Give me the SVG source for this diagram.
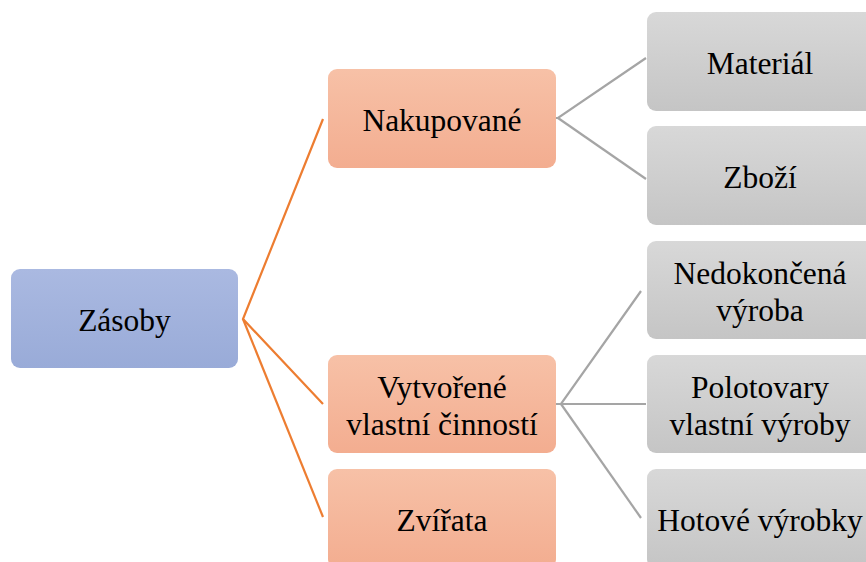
<svg xmlns="http://www.w3.org/2000/svg" width="866" height="562" viewBox="0 0 866 562">
  <defs>
    <linearGradient id="gBlue" x1="0" y1="0" x2="0" y2="1">
      <stop offset="0" stop-color="#aab9e1"/>
      <stop offset="1" stop-color="#99abd8"/>
    </linearGradient>
    <linearGradient id="gOrange" x1="0" y1="0" x2="0" y2="1">
      <stop offset="0" stop-color="#f7c1a7"/>
      <stop offset="1" stop-color="#f3ad90"/>
    </linearGradient>
    <linearGradient id="gGray" x1="0" y1="0" x2="0" y2="1">
      <stop offset="0" stop-color="#d8d8d8"/>
      <stop offset="1" stop-color="#c5c5c5"/>
    </linearGradient>
  </defs>
  <style>
    .box { stroke: none; }
    .blue { fill: url(#gBlue); }
    .orange { fill: url(#gOrange); }
    .gray { fill: url(#gGray); }
    .lbl { font-family: 'Liberation Serif', serif; font-size: 31.5px; fill: #000; text-anchor: middle; }
    .lo { stroke: #ed7d31; stroke-width: 2.2; fill: none; }
    .lg { stroke: #a5a5a5; stroke-width: 2.2; fill: none; }
  </style>

  <g id="connectors">
    <polyline class="lo" points="323,119 243,319 323,404"/>
    <line class="lo" x1="243" y1="319" x2="323" y2="517"/>
    <polyline class="lg" points="556,118 558,118 646,58"/>
    <line class="lg" x1="558" y1="118" x2="646" y2="179"/>
    <polyline class="lg" points="556,404 561,404 641,291"/>
    <line class="lg" x1="561" y1="404" x2="646" y2="404"/>
    <line class="lg" x1="561" y1="404" x2="641" y2="518"/>
  </g>

  <g id="zasoby">
    <rect class="box blue" x="11" y="269" width="227" height="99" rx="9"/>
    <text class="lbl" font-family="Liberation Serif, serif" x="124.5" y="331">Zásoby</text>
  </g>

  <g id="nakupovane">
    <rect class="box orange" x="328" y="69" width="228" height="99" rx="9"/>
    <text class="lbl" font-family="Liberation Serif, serif" x="442" y="131">Nakupované</text>
  </g>

  <g id="vytvorene">
    <rect class="box orange" x="328" y="355" width="228" height="98" rx="9"/>
    <text class="lbl" font-family="Liberation Serif, serif" x="442" y="397.5">Vytvořené</text>
    <text class="lbl" font-family="Liberation Serif, serif" x="442" y="434.5">vlastní činností</text>
  </g>

  <g id="zvirata">
    <rect class="box orange" x="328" y="469" width="228" height="99" rx="9"/>
    <text class="lbl" font-family="Liberation Serif, serif" x="442" y="531">Zvířata</text>
  </g>

  <g id="material">
    <rect class="box gray" x="647" y="12" width="227" height="99" rx="9"/>
    <text class="lbl" font-family="Liberation Serif, serif" x="760" y="74">Materiál</text>
  </g>

  <g id="zbozi">
    <rect class="box gray" x="647" y="126" width="227" height="99" rx="9"/>
    <text class="lbl" font-family="Liberation Serif, serif" x="760" y="188">Zboží</text>
  </g>

  <g id="nedokoncena">
    <rect class="box gray" x="647" y="241" width="227" height="98" rx="9"/>
    <text class="lbl" font-family="Liberation Serif, serif" x="760" y="283.5">Nedokončená</text>
    <text class="lbl" font-family="Liberation Serif, serif" x="760" y="320.5">výroba</text>
  </g>

  <g id="polotovary">
    <rect class="box gray" x="647" y="355" width="227" height="98" rx="9"/>
    <text class="lbl" font-family="Liberation Serif, serif" x="760" y="397.5">Polotovary</text>
    <text class="lbl" font-family="Liberation Serif, serif" x="760" y="434.5">vlastní výroby</text>
  </g>

  <g id="hotove">
    <rect class="box gray" x="647" y="469" width="227" height="99" rx="9"/>
    <text class="lbl" font-family="Liberation Serif, serif" x="760" y="531">Hotové výrobky</text>
  </g>
</svg>
